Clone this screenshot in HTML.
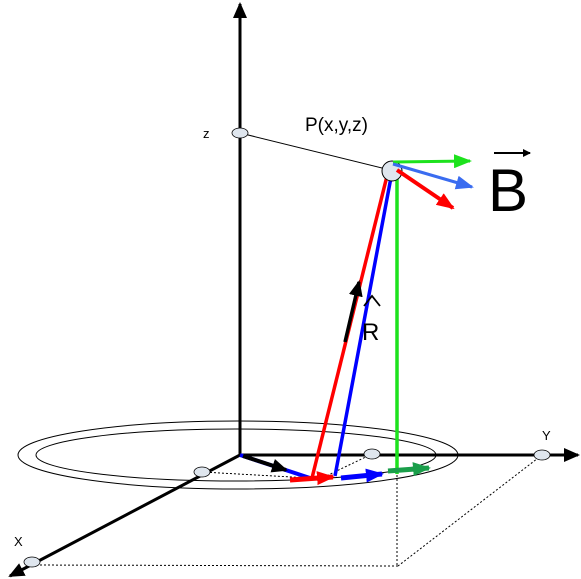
<!DOCTYPE html>
<html><head><meta charset="utf-8"><style>
body{margin:0;background:#fff}
svg{display:block;font-family:"Liberation Sans",sans-serif}
</style></head><body>
<svg width="581" height="579" viewBox="0 0 581 579">
<defs>
<marker id="ak" markerWidth="8" markerHeight="8" refX="7" refY="4" orient="auto" markerUnits="userSpaceOnUse"><path d="M0,0L8,4L0,8z" fill="#000"/></marker>
<marker id="akL" markerWidth="16" markerHeight="14" refX="14" refY="7" orient="auto" markerUnits="userSpaceOnUse"><path d="M0,0L16,7L0,14z" fill="#000"/></marker>
<marker id="ar" markerWidth="18" markerHeight="14" refX="16" refY="7" orient="auto" markerUnits="userSpaceOnUse"><path d="M0,0L18,7L0,14z" fill="#f00"/></marker>
<marker id="ab" markerWidth="18" markerHeight="14" refX="16" refY="7" orient="auto" markerUnits="userSpaceOnUse"><path d="M0,0L18,7L0,14z" fill="#00f"/></marker>
<marker id="ag" markerWidth="18" markerHeight="14" refX="16" refY="7" orient="auto" markerUnits="userSpaceOnUse"><path d="M0,0L18,7L0,14z" fill="#1a9e4a"/></marker>
<marker id="agl" markerWidth="18" markerHeight="14" refX="16" refY="7" orient="auto" markerUnits="userSpaceOnUse"><path d="M0,0L18,7L0,14z" fill="#1de21d"/></marker>
<marker id="abl" markerWidth="18" markerHeight="14" refX="16" refY="7" orient="auto" markerUnits="userSpaceOnUse"><path d="M0,0L18,7L0,14z" fill="#3a6cf0"/></marker>
</defs>
<ellipse cx="238" cy="455" rx="220" ry="34" fill="none" stroke="#000" stroke-width="1"/>
<ellipse cx="236" cy="455" rx="200" ry="26" fill="none" stroke="#000" stroke-width="1"/>
<g stroke="#000" stroke-width="1" stroke-dasharray="2,2" fill="none">
<line x1="202" y1="472" x2="310" y2="478"/>
<line x1="372" y1="454" x2="322" y2="478"/>
<line x1="542" y1="455" x2="398" y2="566"/>
<line x1="398" y1="566" x2="32" y2="565"/>
<line x1="397" y1="475" x2="397" y2="566"/>
</g>
<line x1="240" y1="455" x2="240" y2="4" stroke="#000" stroke-width="3" marker-end="url(#akL)"/>
<line x1="240" y1="455" x2="578" y2="455" stroke="#000" stroke-width="3" marker-end="url(#akL)"/>
<line x1="240" y1="455" x2="10" y2="576" stroke="#000" stroke-width="3" marker-end="url(#akL)"/>
<line x1="240" y1="133" x2="390" y2="170" stroke="#000" stroke-width="1"/>
<g fill="#dfe6ee" stroke="#000" stroke-width="0.8">
<ellipse cx="240" cy="133" rx="8" ry="5"/>
<ellipse cx="202" cy="472" rx="8" ry="5"/>
<ellipse cx="372" cy="454" rx="8" ry="5"/>
<ellipse cx="542" cy="455" rx="8" ry="5"/>
<ellipse cx="32" cy="562" rx="8" ry="5"/>
</g>
<line x1="312" y1="478" x2="388" y2="172" stroke="#f00" stroke-width="3.5"/>
<line x1="335" y1="476" x2="392" y2="172" stroke="#00f" stroke-width="3.5"/>
<line x1="397" y1="474" x2="397" y2="162" stroke="#1de21d" stroke-width="3.5"/>
<line x1="345" y1="342" x2="359" y2="282" stroke="#000" stroke-width="3.5" marker-end="url(#akL)"/>
<ellipse cx="392" cy="171" rx="10" ry="10" fill="#dfe6ee" stroke="#000" stroke-width="1"/>
<line x1="393" y1="162" x2="470" y2="161" stroke="#1de21d" stroke-width="3" marker-end="url(#agl)"/>
<line x1="393" y1="164" x2="472" y2="187" stroke="#3a6cf0" stroke-width="3" marker-end="url(#abl)"/>
<line x1="397" y1="170" x2="453" y2="208" stroke="#f00" stroke-width="4" marker-end="url(#ar)"/>
<path d="M240,455 Q280,468 310,478" fill="none" stroke="#00f" stroke-width="4"/>
<line x1="243" y1="456" x2="286" y2="470" stroke="#000" stroke-width="4" marker-end="url(#akL)"/>
<line x1="290" y1="480" x2="333" y2="477" stroke="#f00" stroke-width="5" marker-end="url(#ar)"/>
<line x1="341" y1="478" x2="382" y2="474" stroke="#00f" stroke-width="5" marker-end="url(#ab)"/>
<line x1="388" y1="471" x2="429" y2="468" stroke="#1a9e4a" stroke-width="5" marker-end="url(#ag)"/>
<text x="203" y="138" font-size="13">z</text>
<text x="542" y="440" font-size="13">Y</text>
<text x="14" y="546" font-size="13">X</text>
<text x="305" y="131" font-size="19">P(x,y,z)</text>
<text x="362" y="340" font-size="24">R</text>
<path d="M364,306 L372,296 L380,306" fill="none" stroke="#000" stroke-width="1.8"/>
<text x="488" y="211" font-size="60">B</text>
<line x1="494" y1="153" x2="530" y2="153" stroke="#000" stroke-width="2" marker-end="url(#ak)"/>
</svg>
</body></html>
